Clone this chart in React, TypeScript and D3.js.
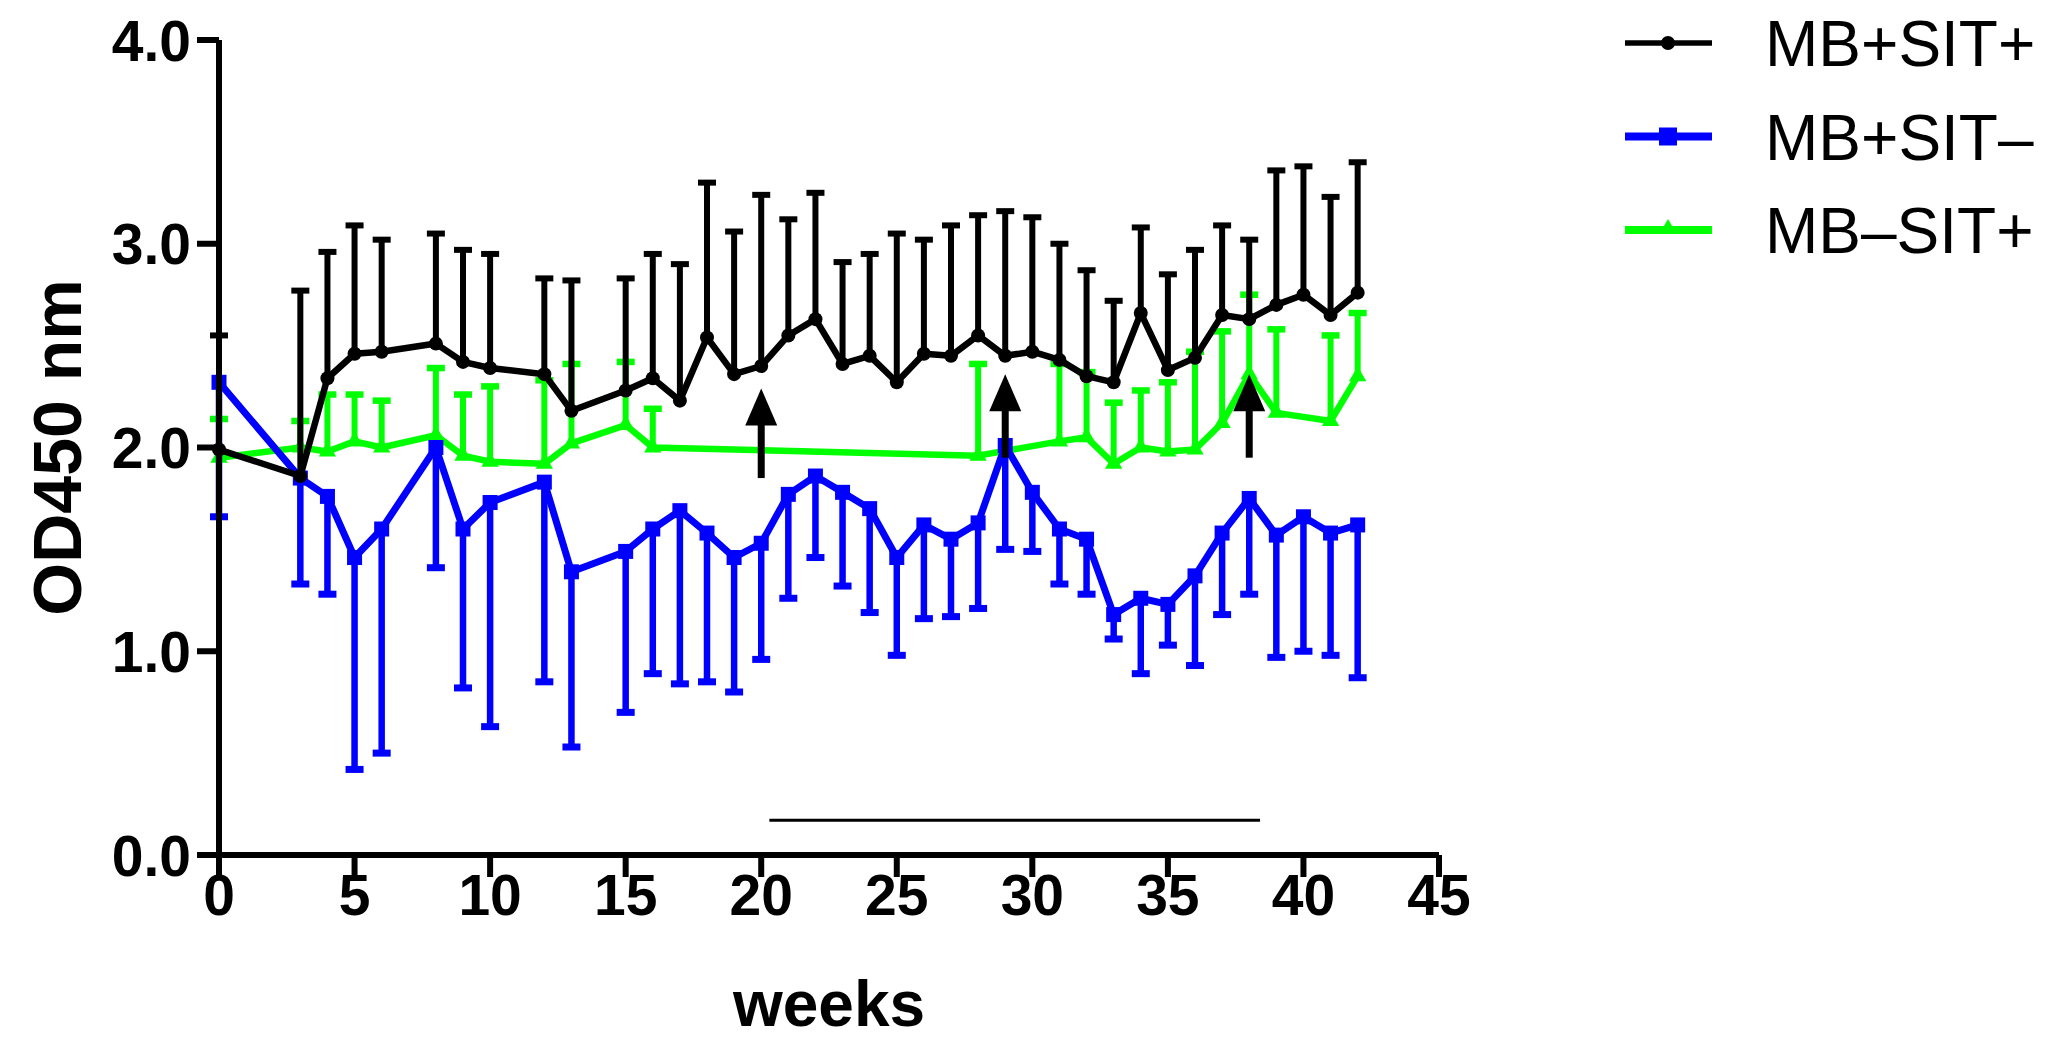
import React from 'react';
import * as d3 from 'd3';

// weeks sampled for MB+SIT+ and MB+SIT−
const weeks = [0, 3, 4, 5, 6, 8, 9, 10, 12, 13, 15, 16, 17, 18, 19, 20, 21, 22, 23, 24, 25, 26, 27, 28, 29, 30, 31, 32, 33, 34, 35, 36, 37, 38, 39, 40, 41, 42];

// MB+SIT+ (black): mean and upper end of error bar
const posMean = [1.99, 1.86, 2.34, 2.46, 2.47, 2.51, 2.42, 2.39, 2.36, 2.18, 2.28, 2.34, 2.23, 2.54, 2.36, 2.40, 2.55, 2.63, 2.41, 2.45, 2.32, 2.46, 2.45, 2.55, 2.45, 2.47, 2.43, 2.35, 2.32, 2.66, 2.38, 2.44, 2.65, 2.63, 2.70, 2.75, 2.65, 2.76];
const posUpper = [2.55, 2.77, 2.96, 3.09, 3.02, 3.05, 2.97, 2.95, 2.83, 2.82, 2.83, 2.95, 2.90, 3.30, 3.06, 3.24, 3.12, 3.25, 2.91, 2.95, 3.05, 3.02, 3.09, 3.14, 3.16, 3.13, 3.00, 2.87, 2.72, 3.08, 2.85, 2.97, 3.09, 3.02, 3.36, 3.38, 3.23, 3.40];

// MB+SIT− (blue): mean and lower end of error bar
const negMean = [2.32, 1.85, 1.76, 1.46, 1.60, 2.00, 1.60, 1.73, 1.83, 1.39, 1.49, 1.60, 1.69, 1.58, 1.46, 1.53, 1.77, 1.86, 1.78, 1.70, 1.46, 1.62, 1.55, 1.63, 2.01, 1.78, 1.60, 1.55, 1.18, 1.26, 1.23, 1.37, 1.58, 1.75, 1.57, 1.66, 1.58, 1.62];
const negLower = [1.66, 1.33, 1.28, 0.42, 0.50, 1.41, 0.82, 0.63, 0.85, 0.53, 0.70, 0.89, 0.84, 0.85, 0.80, 0.96, 1.26, 1.46, 1.32, 1.19, 0.98, 1.16, 1.17, 1.21, 1.50, 1.49, 1.33, 1.28, 1.06, 0.89, 1.03, 0.93, 1.18, 1.28, 0.97, 1.00, 0.98, 0.87];

// MB−SIT+ (green)
const ctrlWeeks = [0, 3, 4, 5, 6, 8, 9, 10, 12, 13, 15, 16, 28, 31, 32, 33, 34, 35, 36, 37, 38, 39, 41, 42];
const ctrlMean = [1.95, 2.00, 1.98, 2.03, 2.00, 2.06, 1.96, 1.93, 1.92, 2.02, 2.11, 2.00, 1.96, 2.03, 2.05, 1.92, 2.00, 1.98, 1.99, 2.12, 2.36, 2.17, 2.13, 2.35];
const ctrlUpper = [2.14, 2.13, 2.26, 2.26, 2.23, 2.39, 2.26, 2.30, 2.33, 2.41, 2.42, 2.19, 2.41, 2.41, 2.37, 2.22, 2.28, 2.32, 2.47, 2.57, 2.75, 2.58, 2.55, 2.66];

// treatment arrows and period bar
const arrowWeeks = [20, 29, 38];
const arrowTop = [2.29, 2.36, 2.36];
const arrowBottom = [1.85, 1.95, 1.95];
const periodStart = 20.3;
const periodEnd = 38.4;
const periodLevel = 0.17;

const xTicks = [0, 5, 10, 15, 20, 25, 30, 35, 40, 45];
const yTicks = [0, 1, 2, 3, 4];

const legendItems = [
    { name: 'MB+SIT+', color: '#000000', marker: 'circle' },
    { name: 'MB+SIT\u2013', color: '#0000ff', marker: 'square' },
    { name: 'MB\u2013SIT+', color: '#00ff00', marker: 'triangle' },
];

const W = 2058;
const H = 1059;
const FONT = 'Arial, "Liberation Sans", Helvetica, sans-serif';

const x = d3.scaleLinear().domain([0, 45]).range([219, 1439]);
const y = d3.scaleLinear().domain([0, 4]).range([855, 40]);

const line = d3.line<[number, number]>()
    .x(d => x(d[0]))
    .y(d => y(d[1]));

const triangle = d3.symbol().type(d3.symbolTriangle).size(130)();

function ErrorBars({ xs, mean, ends, color, width, capW, capH }) {
    return (
        <g>
            {xs.map((w, i) => (
                <g key={i}>
                    <line x1={x(w)} x2={x(w)} y1={y(mean[i])} y2={y(ends[i])} stroke={color} strokeWidth={width} />
                    <rect x={x(w) - capW / 2} y={y(ends[i]) - capH / 2} width={capW} height={capH} fill={color} />
                </g>
            ))}
        </g>
    );
}

export default function App() {
    const posPts = weeks.map((w, i) => [w, posMean[i]] as [number, number]);
    const negPts = weeks.map((w, i) => [w, negMean[i]] as [number, number]);
    const ctrlPts = ctrlWeeks.map((w, i) => [w, ctrlMean[i]] as [number, number]);

    return (
        <svg width={W} height={H} style={{ position: 'absolute', left: 0, top: 0, background: '#fff' }} fontFamily={FONT}>
            {/* green series */}
            <ErrorBars xs={ctrlWeeks} mean={ctrlMean} ends={ctrlUpper} color="#00ff00" width={6} capW={18} capH={6.5} />
            <path d={line(ctrlPts)} fill="none" stroke="#00ff00" strokeWidth={6.5} strokeLinejoin="round" />
            {ctrlPts.map((p, i) => (
                <path key={i} d={triangle} transform={`translate(${x(p[0])},${y(p[1])})`} fill="#00ff00" />
            ))}

            {/* blue series */}
            <ErrorBars xs={weeks} mean={negMean} ends={negLower} color="#0000ff" width={6.5} capW={18} capH={7} />
            <path d={line(negPts)} fill="none" stroke="#0000ff" strokeWidth={7} strokeLinejoin="round" />
            {negPts.map((p, i) => (
                <rect key={i} x={x(p[0]) - 7.5} y={y(p[1]) - 7.5} width={15} height={15} fill="#0000ff" />
            ))}

            {/* black series */}
            <ErrorBars xs={weeks} mean={posMean} ends={posUpper} color="#000000" width={6} capW={18} capH={6} />
            <path d={line(posPts)} fill="none" stroke="#000000" strokeWidth={6.5} strokeLinejoin="round" />
            {posPts.map((p, i) => (
                <circle key={i} cx={x(p[0])} cy={y(p[1])} r={7} fill="#000000" />
            ))}

            {/* arrows */}
            {arrowWeeks.map((w, i) => {
                const xt = x(w), yt = y(arrowTop[i]);
                return (
                    <g key={i}>
                        <line x1={xt} x2={xt} y1={yt + 30} y2={y(arrowBottom[i])} stroke="#000" strokeWidth={7} />
                        <path d={`M${xt},${yt} L${xt + 16},${yt + 37} L${xt - 16},${yt + 37} Z`} fill="#000" />
                    </g>
                );
            })}

            {/* period bar */}
            <line x1={x(periodStart)} x2={x(periodEnd)} y1={y(periodLevel)} y2={y(periodLevel)} stroke="#000" strokeWidth={3} />

            {/* y axis */}
            <line x1={x(0)} x2={x(0)} y1={y(0) + 3} y2={y(4)} stroke="#000" strokeWidth={6} />
            {yTicks.map(t => (
                <g key={t}>
                    <line x1={x(0) - 22} x2={x(0)} y1={y(t)} y2={y(t)} stroke="#000" strokeWidth={6} />
                    <text x={x(0) - 28} y={y(t)} dy="0.36em" textAnchor="end" fontSize={57} fontWeight="bold">
                        {d3.format('.1f')(t)}
                    </text>
                </g>
            ))}

            {/* x axis */}
            <line x1={x(0) - 3} x2={x(45)} y1={y(0)} y2={y(0)} stroke="#000" strokeWidth={6} />
            {xTicks.map(t => (
                <g key={t}>
                    <line x1={x(t)} x2={x(t)} y1={y(0)} y2={y(0) + 22} stroke="#000" strokeWidth={6} />
                    <text x={x(t)} y={915} textAnchor="middle" fontSize={57} fontWeight="bold">{t}</text>
                </g>
            ))}

            <text x={829} y={1026} textAnchor="middle" fontSize={64} fontWeight="bold">weeks</text>
            <text transform={`translate(81,${(y(0) + y(4)) / 2}) rotate(-90)`} textAnchor="middle" fontSize={68} fontWeight="bold">OD450 nm</text>

            {/* legend */}
            {legendItems.map((d, i) => {
                const cy = 43 + i * 93.5;
                return (
                    <g key={d.name}>
                        <line x1={1625} x2={1712} y1={cy} y2={cy} stroke={d.color} strokeWidth={d.marker === 'circle' ? 5.5 : 8} />
                        {d.marker === 'circle' && <circle cx={1668} cy={cy} r={7} fill={d.color} />}
                        {d.marker === 'square' && <rect x={1659} y={cy - 9} width={18} height={18} fill={d.color} />}
                        {d.marker === 'triangle' && <path d={triangle} transform={`translate(1668,${cy - 1})`} fill={d.color} />}
                        <text x={1765} y={cy} dy="0.36em" fontSize={64}>{d.name}</text>
                    </g>
                );
            })}
        </svg>
    );
}
